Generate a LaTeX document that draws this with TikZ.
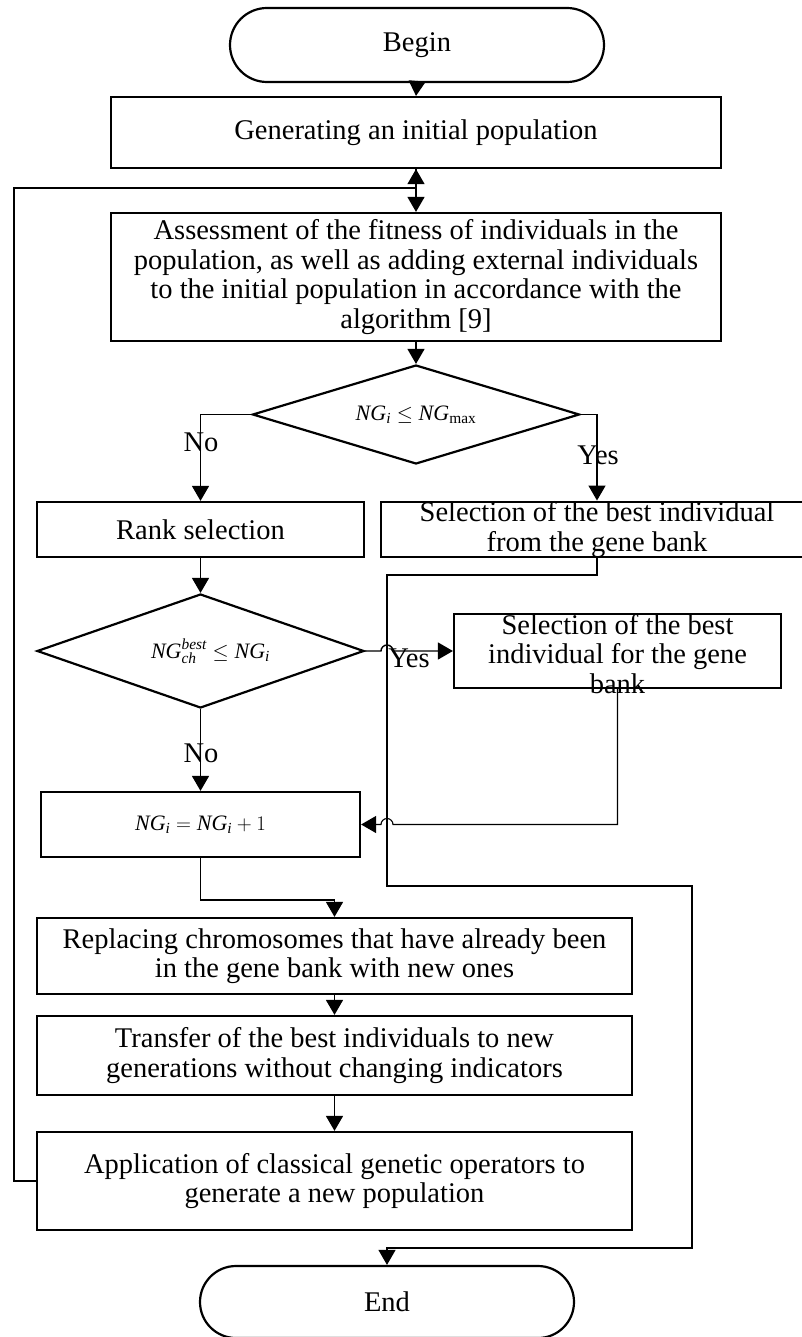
\documentclass[tikz,border=0pt]{standalone}
\usepackage{fontspec}
\usepackage{amsmath}
\setmainfont{Liberation Serif}
\usetikzlibrary{shapes.geometric,shapes.misc,arrows.meta,calc}
\begin{document}
\begin{tikzpicture}[x=1pt,y=-1pt,
  font=\fontsize{28.5}{29.5}\selectfont,
  box/.style={draw,line width=2.2pt,inner sep=0pt,align=center},
  proc/.style={box,rectangle},
  term/.style={box,rounded rectangle},
  dec/.style={box,diamond},
  conn/.style={line width=1.4pt},
  thinconn/.style={line width=1.1pt},
  arr/.style={-{Triangle[length=15pt,width=17pt]}},
  lbl/.style={inner sep=0pt},
  mathlbl/.style={inner sep=0pt,font=\fontsize{22}{24}\selectfont}
]
\useasboundingbox (0,0) rectangle (802,1337);

% nodes
\node[term,minimum width=374pt,minimum height=74pt] (begin) at (417,45) {Begin};
\node[proc,minimum width=610pt,minimum height=71pt] (gen) at (416,132.5) {Generating an initial population};
\node[proc,minimum width=610pt,minimum height=128pt] (assess) at (416,277)
  {Assessment of the fitness of individuals in the\\population, as well as adding external individuals\\to the initial population in accordance with the\\algorithm [9]};
\node[dec,minimum width=327pt,minimum height=99pt] (d1) at (416,414.5) {};
\node[mathlbl] at (d1.center) {$\textit{NG}_{\textit{i}} \le \textit{NG}_{\max}$};
\node[proc,minimum width=327pt,minimum height=55pt] (rank) at (200.5,529.5) {Rank selection};
\node[proc,minimum width=432pt,minimum height=55pt] (gbsel) at (597,529.5) {Selection of the best individual\\from the gene bank};
\node[dec,minimum width=327pt,minimum height=114pt] (d2) at (200.5,651) {};
\node[mathlbl] at ($(d2.center)+(10,0)$) {$\textit{NG}_{\textit{ch}}^{\textit{best}} \le \textit{NG}_{\textit{i}}$};
\node[proc,minimum width=327pt,minimum height=74pt] (gbput) at (617.5,651) {};
\node[lbl,align=center] at ($(gbput.center)+(0,3)$) {Selection of the best\\individual for the gene\\bank};
\node[proc,minimum width=319pt,minimum height=65pt] (inc) at (200.5,824.5) {};
\node[mathlbl] at (inc.center) {$\textit{NG}_{\textit{i}} = \textit{NG}_{\textit{i}} + 1$};
\node[proc,minimum width=595pt,minimum height=76pt] (repl) at (334.5,956)
  {Replacing chromosomes that have already been\\in the gene bank with new ones};
\node[proc,minimum width=595pt,minimum height=79pt] (trans) at (334.5,1055.5)
  {Transfer of the best individuals to new\\generations without changing indicators};
\node[proc,minimum width=595pt,minimum height=98pt] (appl) at (334.5,1181)
  {Application of classical genetic operators to\\generate a new population};
\node[term,minimum width=374pt,minimum height=72pt] (end) at (387,1302) {End};

% helper coordinates
\coordinate (lp) at (14,188);
\coordinate (r1) at (387,575);
\coordinate (r2) at (387,886);
\coordinate (r3) at (692,886);
\coordinate (r4) at (692,1248);

% connectors
\draw[conn,arr] (begin.south) -- (gen.north);
\draw[conn,arr] (gen.south) -- (assess.north);
\draw[thinconn,arr] (appl.west) -- (appl.west -| lp) -- (lp) -- (gen.south |- lp) -- (gen.south);
\draw[conn,arr] (assess.south) -- (d1.north);
\draw[conn,arr] (d1.west) -| (rank.north);
\draw[conn,arr] (d1.east) -| (gbsel.north);
\draw[conn,arr] (rank.south) -- (d2.north);
\draw[conn,arr] (d2.south) -- (inc.north);
\draw[conn,arr] (d2.east) -- ($(d2.east -| r1)+(-6,0)$) arc[start angle=180,end angle=360,radius=6] -- (gbput.west);
\draw[thinconn,arr] (gbput.south) |- ($(inc.east -| r1)+(6,0)$) arc[start angle=0,end angle=-180,radius=6] -- (inc.east);
\draw[thinconn,arr] (gbsel.south) |- (r1) -- (r2) -- (r3) -- (r4) -- (end.north |- r4) -- (end.north);
\draw[conn,arr] (inc.south) -- ++(0,42) -| (repl.north);
\draw[conn,arr] (repl.south) -- (trans.north);
\draw[conn,arr] (trans.south) -- (appl.north);

% labels
\node[lbl] at (201,442) {No};
\node[lbl] at (598,455) {Yes};
\node[lbl] at (409,658) {Yes};
\node[lbl] at (201,753) {No};
\end{tikzpicture}
\end{document}
